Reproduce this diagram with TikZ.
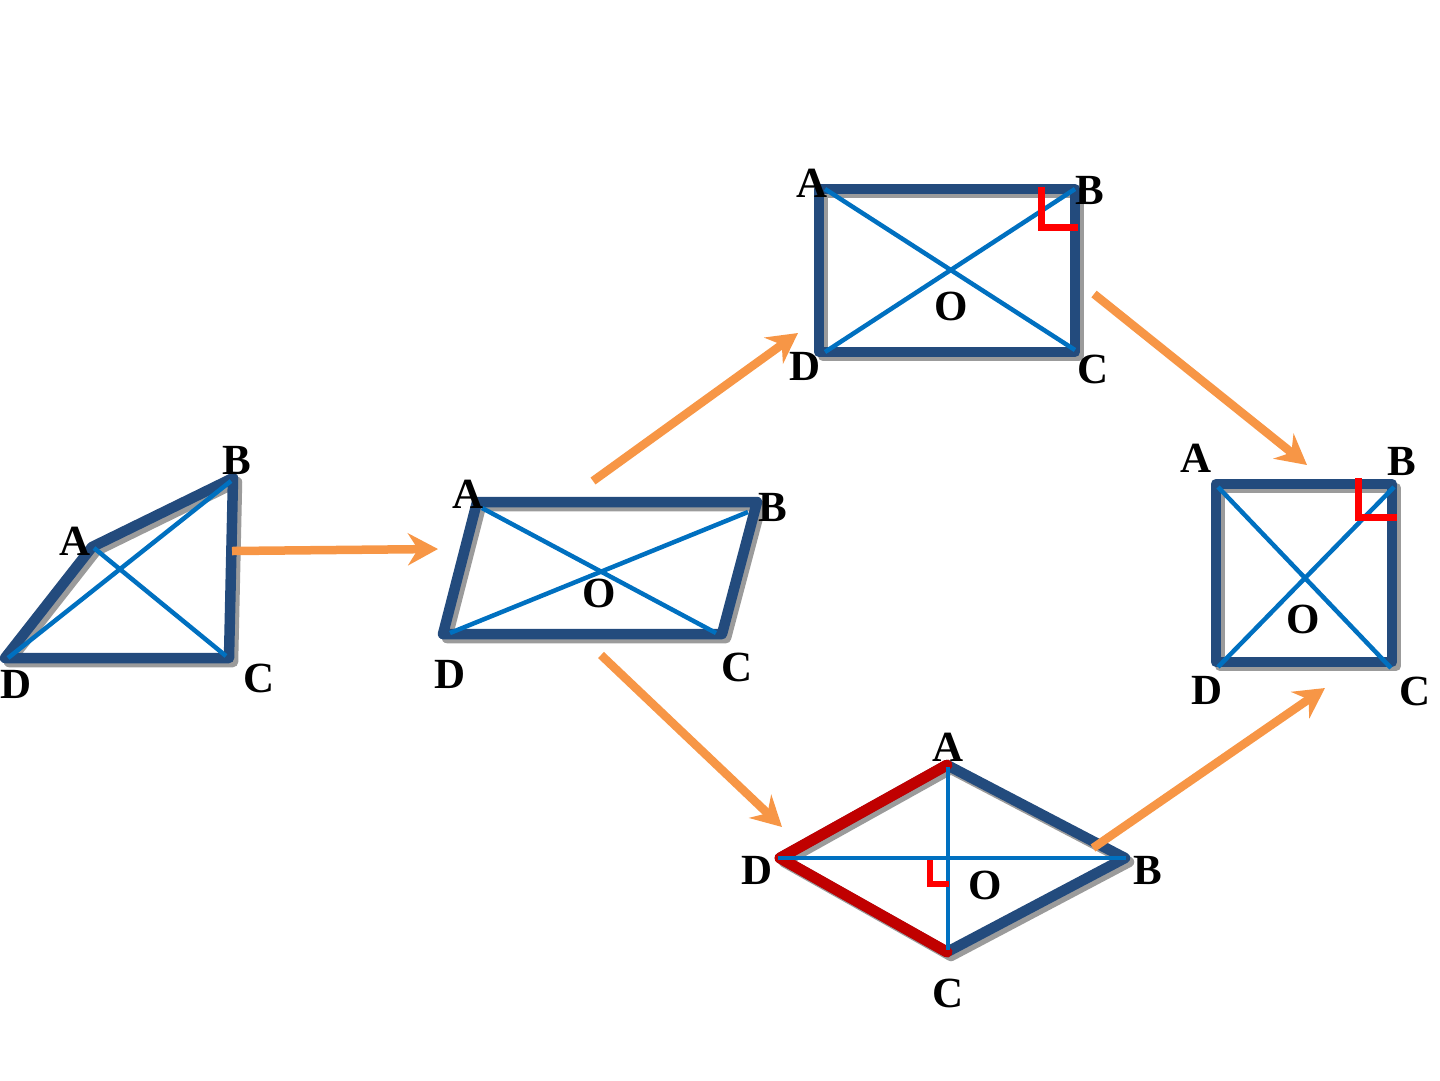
\documentclass[tikz,border=0pt]{standalone}
\usepackage{fontspec}
\setmainfont{Liberation Serif}
\usetikzlibrary{arrows.meta}
\definecolor{edgeblue}{RGB}{35,75,125}
\definecolor{diagblue}{RGB}{0,112,192}
\definecolor{shadowgray}{RGB}{155,155,155}
\definecolor{arroworange}{RGB}{247,150,70}
\definecolor{darkred}{RGB}{192,0,0}
\begin{document}
\begin{tikzpicture}[x=1pt,y=-1pt,
  edge/.style={line width=10.5pt, draw=edgeblue, line join=round, line cap=round},
  shad/.style={line width=10.5pt, draw=shadowgray, line join=round, line cap=round, transform canvas={xshift=4pt,yshift=-4pt}},
  diag/.style={line width=4.5pt, draw=diagblue},
  lab/.style={font=\bfseries\fontsize{43}{43}\selectfont, inner sep=0pt},
  flow/.style={line width=8.5pt, draw=arroworange, -{Stealth[length=30pt,width=32pt,inset=10pt]}},
  rmark/.style={line width=7pt, draw=red}]
\useasboundingbox (0,0) rectangle (1440,1080);

% ---------- quadrilateral ----------
\coordinate (qA) at (92,547); \coordinate (qB) at (233,478);
\coordinate (qC) at (229,658); \coordinate (qD) at (5,658);
\draw[shad] (qA) -- (qB) -- (qC) -- (qD) -- cycle;
\draw[edge] (qA) -- (qB) -- (qC) -- (qD) -- cycle;
\draw[diag] (94,548) -- (226,656);
\draw[diag] (8,658) -- (231,481);
\node[lab] (qlA) at (75,541) {A};
\node[lab] (qlB) at (237,460) {B};
\node[lab] (qlC) at (259,678) {C};
\node[lab] (qlD) at (16,684) {D};

% ---------- parallelogram ----------
\coordinate (pA) at (477,502); \coordinate (pB) at (757,502);
\coordinate (pC) at (722,634); \coordinate (pD) at (443,634);
\draw[shad] (pA) -- (pB) -- (pC) -- (pD) -- cycle;
\draw[edge] (pA) -- (pB) -- (pC) -- (pD) -- cycle;
\draw[diag] (482,508) -- (716,633);
\draw[diag] (450,633) -- (748,512);
\node[lab] (plA) at (468,494) {A};
\node[lab] (plB) at (773,507) {B};
\node[lab] (plO) at (599,593) {O};
\node[lab] (plD) at (450,674) {D};
\node[lab] (plC) at (737,667) {C};

% ---------- rectangle ----------
\coordinate (rA) at (819,189); \coordinate (rB) at (1075,189);
\coordinate (rC) at (1075,352); \coordinate (rD) at (819,352);
\draw[shad] (rA) -- (rB) -- (rC) -- (rD) -- cycle;
\draw[edge] (rA) -- (rB) -- (rC) -- (rD) -- cycle;
\draw[diag] (825,189) -- (1075,350);
\draw[diag] (825,352) -- (1075,189);
\draw[rmark] (1041,187) -- (1041,227) -- (1078,227);
\node[lab] (rlA) at (812,183) {A};
\node[lab] (rlB) at (1090,190) {B};
\node[lab] (rlO) at (951,306) {O};
\node[lab] (rlD) at (805,366) {D};
\node[lab] (rlC) at (1093,369) {C};

% ---------- square ----------
\coordinate (sA) at (1216,484); \coordinate (sB) at (1392,484);
\coordinate (sC) at (1392,662); \coordinate (sD) at (1216,662);
\draw[shad] (sA) -- (sB) -- (sC) -- (sD) -- cycle;
\draw[edge] (sA) -- (sB) -- (sC) -- (sD) -- cycle;
\draw[diag] (1218,487) -- (1391,668);
\draw[diag] (1218,667) -- (1394,487);
\draw[rmark] (1358,478) -- (1358,517) -- (1397,517);
\node[lab] (slA) at (1196,458) {A};
\node[lab] (slB) at (1402,461) {B};
\node[lab] (slO) at (1303,619) {O};
\node[lab] (slD) at (1207,690) {D};
\node[lab] (slC) at (1415,691) {C};

% ---------- rhombus ----------
\coordinate (hA) at (947,765); \coordinate (hB) at (1125,858);
\coordinate (hC) at (947,952); \coordinate (hD) at (780,858);
\draw[shad] (hA) -- (hB) -- (hC) -- (hD) -- cycle;
\draw[edge] (hA) -- (hB) -- (hC) -- (hD) -- cycle;
\draw[line width=11pt, draw=darkred, line join=round, line cap=round] (hA) -- (hD) -- (hC);
\draw[diag] (778,858) -- (1126,858);
\draw[diag] (948,767) -- (948,950);
\draw[line width=6pt, draw=red] (930,860) -- (930,884) -- (949,884);
\node[lab] (hlA) at (948,747) {A};
\node[lab] (hlB) at (1148,870) {B};
\node[lab] (hlO) at (985,885) {O};
\node[lab] (hlD) at (757,870) {D};
\node[lab] (hlC) at (948,993) {C};

% ---------- arrows ----------
\coordinate (a1s) at (232,551); \coordinate (a1e) at (438,549);
\coordinate (a2s) at (593,481); \coordinate (a2e) at (798,333);
\coordinate (a3s) at (1094,294); \coordinate (a3e) at (1307,465);
\coordinate (a4s) at (601,655); \coordinate (a4e) at (782,827);
\coordinate (a5s) at (1093,848); \coordinate (a5e) at (1325,688);
\draw[flow] (a1s) -- (a1e);
\draw[flow] (a2s) -- (a2e);
\draw[flow] (a3s) -- (a3e);
\draw[flow] (a4s) -- (a4e);
\draw[flow] (a5s) -- (a5e);
\end{tikzpicture}
\end{document}
